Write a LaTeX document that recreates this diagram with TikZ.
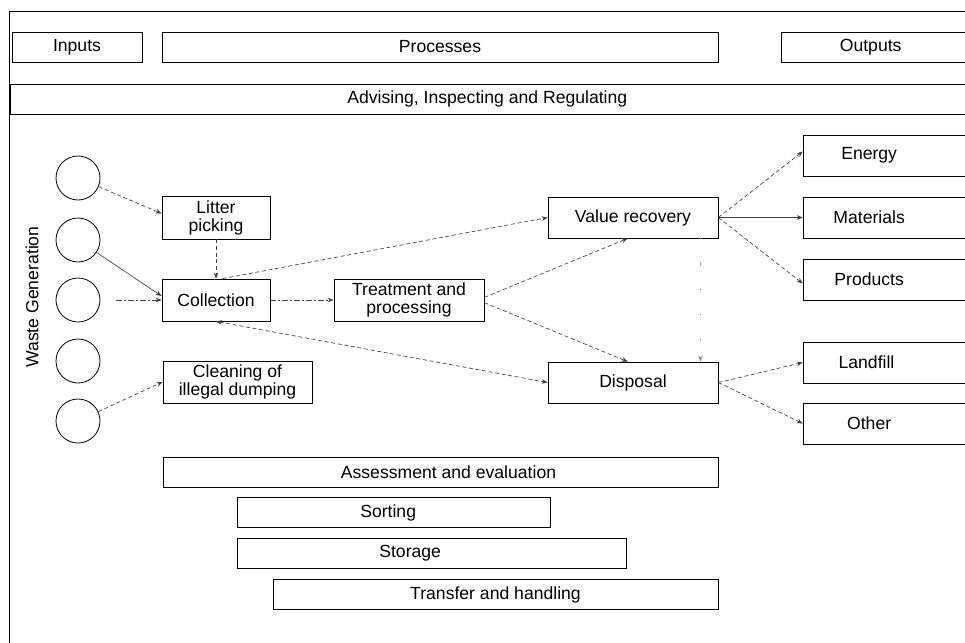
\documentclass[tikz,border=0pt]{standalone}
\usepackage{fontspec}
\setmainfont{Liberation Sans}
\usetikzlibrary{arrows.meta}
\begin{document}
\begin{tikzpicture}[x=0.75pt,y=-0.75pt,
  box/.style={draw,line width=0.6pt,rectangle,inner sep=1pt,align=center,font=\fontsize{13.2}{13.5}\selectfont},
  circ/.style={draw,line width=0.6pt,circle,minimum size=33pt,inner sep=0pt},
  con/.style={line width=0.5pt,draw=black!75,-{Stealth[length=4.5pt,width=3.5pt]}},
  dsh/.style={dash pattern=on 3pt off 2pt},
  dshdot/.style={dash pattern=on 4pt off 2pt on 1pt off 2pt},
  faint/.style={draw=black!45,dash pattern=on 0.8pt off 18pt}
]
\useasboundingbox (0,0) rectangle (965,643);
% frame
\draw[line width=0.7pt] (9,643) -- (9,11) -- (975,11);
% header boxes
\node[box,minimum width=97.5pt,minimum height=22.5pt] (inputs) at (77,47) {Inputs};
\node[box,minimum width=417pt,minimum height=22.5pt] (processes) at (440,47) {Processes};
\node[box,minimum width=142.5pt,minimum height=22.5pt] (outputs) at (876,47) {Outputs\hspace*{8pt}};
\node[box,minimum width=720pt,minimum height=22.5pt] (advising) at (490,99) {Advising, Inspecting and Regulating\hspace*{4pt}};
% circles
\node[circ] (c1) at (78,178) {};
\node[circ] (c2) at (78,240) {};
\node[circ] (c3) at (78,300) {};
\node[circ] (c4) at (78,361) {};
\node[circ] (c5) at (78,421) {};
\node[rotate=90,font=\fontsize{13.2}{13.5}\selectfont] (wg) at (32,297) {Waste Generation};
% process boxes
\node[box,minimum width=81pt,minimum height=32.25pt] (litter) at (216,217.5) {Litter\\picking};
\node[box,minimum width=81pt,minimum height=31.5pt] (collection) at (216,300) {Collection};
\node[box,minimum width=111.75pt,minimum height=31.5pt] (cleaning) at (237.5,382) {Cleaning of\\illegal dumping};
\node[box,minimum width=112.5pt,minimum height=31.5pt] (treatment) at (409,300) {Treatment and\\processing};
\node[box,minimum width=127.5pt,minimum height=30.75pt] (value) at (633,217.5) {Value recovery};
\node[box,minimum width=127.5pt,minimum height=30.75pt] (disposal) at (633,382.5) {Disposal};
% output boxes
\node[box,minimum width=125pt,minimum height=30.75pt] (energy) at (886.5,155.5) {Energy\hspace*{26pt}};
\node[box,minimum width=125pt,minimum height=30.75pt] (materials) at (886.5,217.5) {Materials\hspace*{26pt}};
\node[box,minimum width=125pt,minimum height=30.75pt] (products) at (886.5,279.5) {Products\hspace*{26pt}};
\node[box,minimum width=125pt,minimum height=30.75pt] (landfill) at (886.5,362.5) {Landfill\hspace*{30pt}};
\node[box,minimum width=125pt,minimum height=30.75pt] (other) at (886.5,423.5) {Other\hspace*{26pt}};
% bottom boxes
\node[box,minimum width=416.25pt,minimum height=22.5pt] (assess) at (440.5,472) {Assessment and evaluation\hspace*{-12pt}};
\node[box,minimum width=234.75pt,minimum height=22.5pt] (sorting) at (393.5,512.5) {Sorting\hspace*{8pt}};
\node[box,minimum width=291.75pt,minimum height=22.5pt] (storage) at (431.5,553.5) {Storage\hspace*{32pt}};
\node[box,minimum width=333.75pt,minimum height=22.5pt] (transfer) at (495.5,594.5) {Transfer and handling};
% connectors
\draw[con,dsh] (c1) -- ([yshift=3pt]litter.west);
\draw[con] (c2) -- ([yshift=3pt]collection.west);
\draw[con,dshdot,shorten <=12pt] (c3) -- (collection.west);
\draw[con,dsh] (c5) -- (cleaning.west);
\draw[con,dsh] (litter.south) -- (collection.north);
\draw[con,dshdot] (collection.east) -- (treatment.west);
\draw[con,dsh] ([xshift=5pt]collection.north) -- (value.west);
\draw[con,dsh,{Stealth[length=4.5pt,width=3.5pt]}-{Stealth[length=4.5pt,width=3.5pt]}] (collection.south) -- (disposal.west);
\draw[con,dsh] ([yshift=2pt]treatment.east) -- ([xshift=-4pt]value.south);
\draw[con,dsh] ([yshift=-2pt]treatment.east) -- ([xshift=-4pt]disposal.north);
\draw[con,faint] ([xshift=-13.5pt]value.south east) -- ([xshift=-13.5pt]disposal.north east);
\draw[con,dsh] (value.east) -- ([yshift=3pt]energy.west);
\draw[con] (value.east) -- (materials.west);
\draw[con,dsh] (value.east) -- ([yshift=-3pt]products.west);
\draw[con,dsh] (disposal.east) -- (landfill.west);
\draw[con,dsh] (disposal.east) -- (other.west);
\end{tikzpicture}
\end{document}
